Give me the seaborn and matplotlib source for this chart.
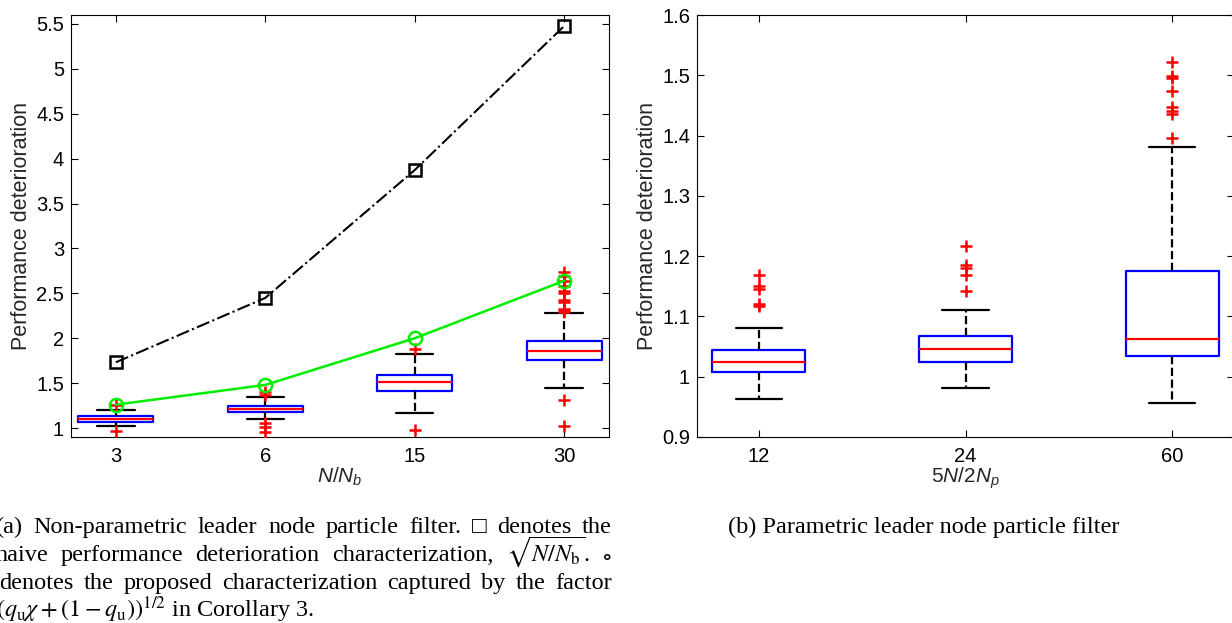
import numpy as np
import pandas as pd
import matplotlib
matplotlib.use("Agg")
import matplotlib.pyplot as plt
import seaborn as sns
from matplotlib.ticker import FixedLocator, FuncFormatter

# ---- panel (a): five-number summaries ----
cats_a = ["3", "6", "15", "30"]
whislo_a = [1.02, 1.10, 1.17, 1.45]
q1_a = [1.07, 1.175, 1.415, 1.76]
med_a = [1.10, 1.215, 1.51, 1.855]
q3_a = [1.135, 1.25, 1.595, 1.97]
whishi_a = [1.20, 1.34, 1.82, 2.28]
fliers_a = {
    "3": [0.97, 1.26],
    "6": [0.96, 1.01, 1.06, 1.37, 1.40],
    "15": [0.98, 1.88],
    "30": [1.02, 1.31, 2.29, 2.31, 2.33, 2.40, 2.43, 2.50, 2.53, 2.58, 2.64, 2.69, 2.74],
}
naive_a = [1.732, 2.449, 3.873, 5.477]      # squares
proposed_a = [1.26, 1.48, 2.00, 2.64]       # circles

# ---- panel (b) ----
cats_b = ["12", "24", "60"]
whislo_b = [0.963, 0.982, 0.957]
q1_b = [1.007, 1.024, 1.035]
med_b = [1.025, 1.046, 1.063]
q3_b = [1.045, 1.068, 1.176]
whishi_b = [1.081, 1.111, 1.381]
fliers_b = {
    "12": [1.117, 1.121, 1.146, 1.150, 1.168],
    "24": [1.142, 1.169, 1.180, 1.185, 1.216],
    "60": [1.396, 1.435, 1.440, 1.447, 1.474, 1.495, 1.499, 1.522],
}

yticks_a = [1, 1.5, 2, 2.5, 3, 3.5, 4, 4.5, 5, 5.5]
yticks_b = [0.9, 1.0, 1.1, 1.2, 1.3, 1.4, 1.5, 1.6]

sns.set_style("ticks")
plt.rcParams["font.family"] = ["Liberation Sans", "DejaVu Sans"]
plt.rcParams["mathtext.fontset"] = "custom"
plt.rcParams["mathtext.it"] = "Liberation Sans:italic"
plt.rcParams["mathtext.rm"] = "Liberation Sans"
plt.rcParams["axes.linewidth"] = 0.8

W, H = 1232, 623
fig = plt.figure(figsize=(W / 100, H / 100), dpi=100)


def frac(x0, y0, x1, y1):
    return [x0 / W, 1 - y1 / H, (x1 - x0) / W, (y1 - y0) / H]


ax1 = fig.add_axes(frac(71, 15, 609, 437))
ax2 = fig.add_axes(frac(697, 15, 1234, 437))


def summary_frame(cats, lo, q1, med, q3, hi):
    rows = []
    for c, *vals in zip(cats, lo, q1, med, q3, hi):
        rows += [(c, v) for v in vals]
    return pd.DataFrame(rows, columns=["group", "value"])


def flier_frame(fliers):
    return pd.DataFrame([(c, v) for c, vs in fliers.items() for v in vs],
                        columns=["group", "value"])


def draw_boxes(ax, summ, fl, cats, width):
    sns.boxplot(data=summ, x="group", y="value", order=cats, ax=ax,
                whis=np.inf, width=width, fill=False, showfliers=False,
                linewidth=1.6,
                boxprops=dict(color="blue"),
                medianprops=dict(color="red"),
                whiskerprops=dict(color="black", linestyle="--"),
                capprops=dict(color="black"))
    sns.stripplot(data=fl, x="group", y="value", order=cats, ax=ax,
                  jitter=False, marker="+", color="red", size=9,
                  linewidth=1.8, zorder=3)


draw_boxes(ax1, summary_frame(cats_a, whislo_a, q1_a, med_a, q3_a, whishi_a),
           flier_frame(fliers_a), cats_a, 0.5)
draw_boxes(ax2, summary_frame(cats_b, whislo_b, q1_b, med_b, q3_b, whishi_b),
           flier_frame(fliers_b), cats_b, 0.45)

sns.pointplot(x=cats_a, y=naive_a, order=cats_a, ax=ax1, errorbar=None,
              color="black", markers="s", linestyles="-.", markersize=8,
              linewidth=1.5, markerfacecolor="none", markeredgewidth=1.8,
              zorder=4)
sns.pointplot(x=cats_a, y=proposed_a, order=cats_a, ax=ax1, errorbar=None,
              color="#00ee00", markers="o", linestyles="-", markersize=9.5,
              linewidth=1.8, markerfacecolor="none", markeredgewidth=1.8,
              zorder=5)

fmt = FuncFormatter(lambda v, p: "%g" % round(v, 3))
for ax, cats, yt, ylim in [(ax1, cats_a, yticks_a, (0.9, 5.6)),
                           (ax2, cats_b, yticks_b, (0.9, 1.6))]:
    ax.set_xlim(-0.3, len(cats) - 0.7)
    ax.set_ylim(*ylim)
    ax.yaxis.set_major_locator(FixedLocator(yt))
    ax.yaxis.set_major_formatter(fmt)
    ax.set_xticks(range(len(cats)))
    ax.set_xticklabels(cats)
    ax.tick_params(direction="in", top=True, right=True, length=5,
                   width=0.8, labelsize=14.5, colors="black")
    ax.tick_params(axis="x", pad=7)
    ax.tick_params(axis="y", pad=5)
    for s in ax.spines.values():
        s.set_visible(True)
        s.set_color("black")
    ax.set_ylabel("Performance deterioration", fontsize=15.5, labelpad=3)

ax1.set_xlabel(r"$N/N_b$", fontsize=15, labelpad=0)
ax2.set_xlabel(r"$5N/2N_p$", fontsize=15, labelpad=0)

# ---- captions ----
cap_kw = dict(fontsize=17.5, family=["Liberation Serif", "DejaVu Sans"],
              math_fontfamily="stix", va="baseline", color="black")
renderer = fig.canvas.get_renderer()


def justify(words, y, x0, x1):
    texts = [fig.text(0, 0, w, **cap_kw) for w in words]
    widths = [t.get_window_extent(renderer).width for t in texts]
    gap = (x1 - x0 - sum(widths)) / (len(words) - 1)
    x = x0
    for t, w in zip(texts, widths):
        t.set_position((x / W, 1 - y / H))
        x += w + gap


justify("(a) Non-parametric leader node particle filter. \u25a1 denotes the".split(),
        533, -4, 612)
justify(["naive", "performance", "deterioration", "characterization,",
         r"$\sqrt{N/N_{\mathrm{b}}}$.", r"$\circ$"], 561, -5, 612)
justify("denotes the proposed characterization captured by the factor".split(),
        589, -1, 612)
fig.text(-4 / W, 1 - 617 / H,
         r"$(q_{\mathrm{u}}\chi + (1 - q_{\mathrm{u}}))^{1/2}$ in Corollary 3.",
         **cap_kw)
fig.text(728 / W, 1 - 533 / H, "(b) Parametric leader node particle filter",
         **cap_kw)

fig.savefig("out.png", dpi=100)
